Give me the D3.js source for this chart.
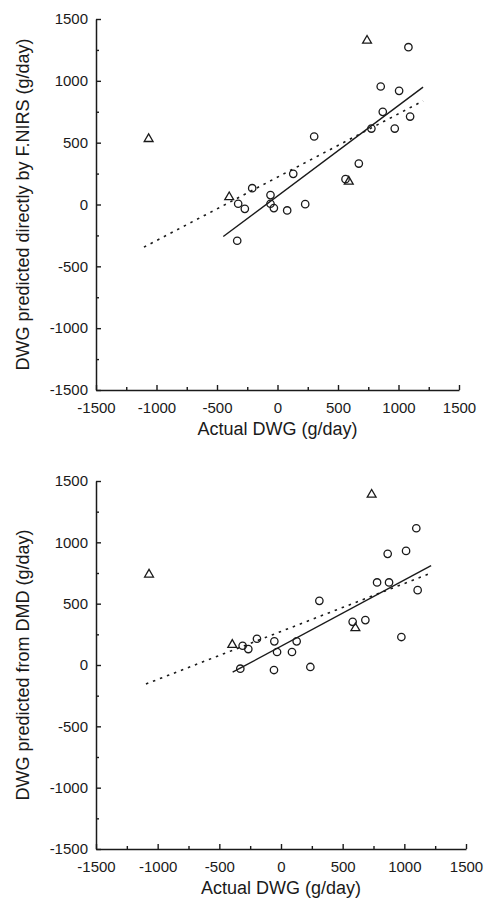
<!DOCTYPE html>
<html>
<head>
<meta charset="utf-8">
<script src="https://cdn.jsdelivr.net/npm/d3@7"></script>
<style>
  html, body { margin: 0; padding: 0; background: #fff; }
  svg { display: block; }
</style>
</head>
<body>
<svg id="chart" width="485" height="903"></svg>
<script>
// ---------- DATA ----------
const tickValues = [-1500, -1000, -500, 0, 500, 1000, 1500];
const minorTickValues = [-1250, -750, -250, 250, 750, 1250];

// Panel A: DWG predicted directly by F.NIRS
const aCircleX = [1082, 853, 1005, 870, 776, 969, 1096, 303, 672, 562, 130, -209, -325, -270, -58, -58, -30, 80, 229, -333];
const aCircleY = [1272, 954, 919, 749, 614, 614, 711, 550, 331, 205, 248, 132, 6, -35, 76, 6, -29, -48, 3, -293];
const aTriX = [-1065, 740, 589, -399];
const aTriY = [530, 1325, 186, 60];
const aSolidX = [-448, 1203];
const aSolidY = [-259, 949];
const aDotX = [-1104, 1203];
const aDotY = [-345, 838];

// Panel B: DWG predicted from DMD
const bCircleX = [1097, 865, 1014, 779, 876, 1108, 311, 684, 581, 976, -195, -54, 127, -311, -265, -32, 89, -330, -57, 238];
const bCircleY = [1115, 906, 930, 673, 673, 610, 523, 366, 352, 228, 214, 193, 193, 157, 130, 106, 106, -30, -41, -16];
const bTriX = [-1070, 735, 603, -395];
const bTriY = [738, 1389, 301, 165];
const bSolidX = [-392, 1217];
const bSolidY = [-59, 811];
const bDotX = [-1095, 1208];
const bDotY = [-155, 746];

const xTitle = "Actual DWG (g/day)";
const aYTitle = "DWG predicted directly by F.NIRS (g/day)";
const bYTitle = "DWG predicted from DMD (g/day)";

// ---------- DRAW ----------
const svg = d3.select("#chart");
const ink = "#1a1a1a";
const font = '"Liberation Sans", Arial, sans-serif';

function panel(cfg) {
  const x = d3.scaleLinear().domain([-1500, 1500]).range([cfg.left, cfg.right]);
  const y = d3.scaleLinear().domain([-1500, 1500]).range([cfg.bottom, cfg.top]);
  const g = svg.append("g");

  // axes via d3 (inward ticks)
  const gx = g.append("g").attr("transform", `translate(0,${cfg.bottom})`)
    .call(d3.axisBottom(x).tickValues(tickValues).tickSize(-5).tickSizeOuter(0).tickPadding(12).tickFormat(d => String(d)));
  const gy = g.append("g").attr("transform", `translate(${cfg.left},0)`)
    .call(d3.axisLeft(y).tickValues(tickValues).tickSize(-5).tickSizeOuter(0).tickPadding(8).tickFormat(d => String(d)));
  const gxm = g.append("g").attr("transform", `translate(0,${cfg.bottom})`)
    .call(d3.axisBottom(x).tickValues(minorTickValues).tickSize(-3).tickSizeOuter(0).tickFormat(() => ""));
  const gym = g.append("g").attr("transform", `translate(${cfg.left},0)`)
    .call(d3.axisLeft(y).tickValues(minorTickValues).tickSize(-3).tickSizeOuter(0).tickFormat(() => ""));
  gxm.select(".domain").remove();
  gym.select(".domain").remove();
  [gx, gy, gxm, gym].forEach(a => {
    a.attr("color", ink);
    a.selectAll("line").attr("stroke-width", 1.4);
    a.selectAll(".domain").attr("stroke-width", 1.5);
    a.selectAll("text").attr("font-size", 15).attr("font-family", font).attr("fill", ink);
  });

  // fit lines
  g.append("line")
    .attr("x1", x(cfg.dotX[0])).attr("y1", y(cfg.dotY[0]))
    .attr("x2", x(cfg.dotX[1])).attr("y2", y(cfg.dotY[1]))
    .attr("stroke", ink).attr("stroke-width", 1.6).attr("stroke-dasharray", "2.5,5");
  g.append("line")
    .attr("x1", x(cfg.solidX[0])).attr("y1", y(cfg.solidY[0]))
    .attr("x2", x(cfg.solidX[1])).attr("y2", y(cfg.solidY[1]))
    .attr("stroke", ink).attr("stroke-width", 1.4);

  g.selectAll("circle.pt").data(cfg.cx.map((v, i) => [v, cfg.cy[i]])).enter()
    .append("circle").attr("class", "pt")
    .attr("cx", d => x(d[0])).attr("cy", d => y(d[1])).attr("r", 3.7)
    .attr("fill", "none").attr("stroke", ink).attr("stroke-width", 1.3);

  const tri = d3.symbol().type(d3.symbolTriangle).size(34);
  g.selectAll("path.tri").data(cfg.tx.map((v, i) => [v, cfg.ty[i]])).enter()
    .append("path").attr("class", "tri")
    .attr("d", tri)
    .attr("transform", d => `translate(${x(d[0])},${y(d[1])})`)
    .attr("fill", "none").attr("stroke", ink).attr("stroke-width", 1.3);

  g.append("text")
    .attr("x", (cfg.left + cfg.right) / 2).attr("y", cfg.bottom + 45)
    .attr("text-anchor", "middle").attr("font-size", 18).attr("font-family", font).attr("fill", ink)
    .text(xTitle);
  g.append("text")
    .attr("transform", `translate(29,${(cfg.top + cfg.bottom) / 2}) rotate(-90)`)
    .attr("text-anchor", "middle").attr("font-size", 18).attr("font-family", font).attr("fill", ink)
    .text(cfg.yTitle);
}

panel({ left: 96, right: 459, top: 19, bottom: 390,
  cx: aCircleX, cy: aCircleY, tx: aTriX, ty: aTriY,
  solidX: aSolidX, solidY: aSolidY, dotX: aDotX, dotY: aDotY, yTitle: aYTitle });
panel({ left: 96, right: 466, top: 481, bottom: 849,
  cx: bCircleX, cy: bCircleY, tx: bTriX, ty: bTriY,
  solidX: bSolidX, solidY: bSolidY, dotX: bDotX, dotY: bDotY, yTitle: bYTitle });
</script>
</body>
</html>
